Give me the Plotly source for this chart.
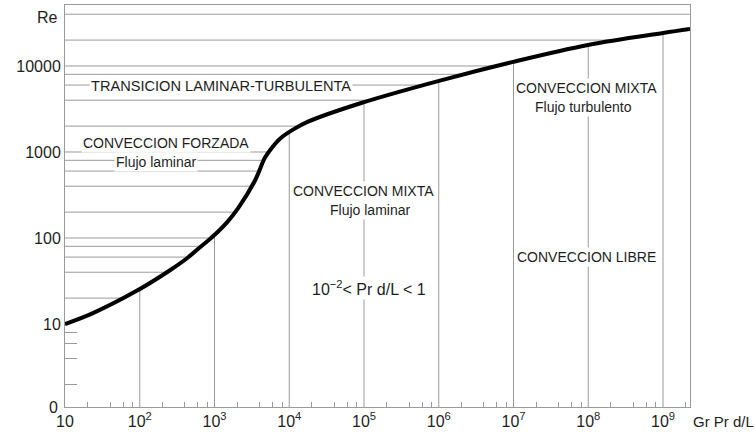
import numpy as np
import plotly.graph_objects as go

# ---- data ----
GR = [10, 23.7, 94.8, 254, 429, 640, 955, 1470, 2063, 3483, 4738, 5877,
      7520, 11220, 17820, 94000, 1.008e6, 9.85e6, 9.92e7, 1.0e9, 2.30e9]
RE = [10, 13.4, 24.8, 42.2, 58.2, 78.0, 104.6, 152, 221, 466, 861, 1125,
      1430, 1818, 2251, 3736, 6720, 11160, 17560, 24180, 26910]

X_TICK_VALS = [10, 1e2, 1e3, 1e4, 1e5, 1e6, 1e7, 1e8, 1e9]
X_TICK_TEXT = ["10", "10<sup>2</sup>", "10<sup>3</sup>", "10<sup>4</sup>", "10<sup>5</sup>",
               "10<sup>6</sup>", "10<sup>7</sup>", "10<sup>8</sup>", "10<sup>9</sup>"]
Y_TICK_VALS = [10, 100, 1000, 10000]
Y_TICK_TEXT = ["10", "100", "1000", "10000"]
H_GRID = [20, 40, 60, 80, 100, 200, 400, 600, 800, 1000, 2000, 4000, 6000, 8000,
          10000, 20000, 40000]
V_GRID = [1e2, 1e3, 1e4, 1e5, 1e6, 1e7, 1e8, 1e9]
X_MINOR = [m * 10 ** k for k in range(1, 10) for m in (2, 4, 6, 8) if m * 10 ** k < 2.3e9]
Y_MINOR = [2, 4, 6, 8]

X_RANGE = [1.0, 9.361]
Y_RANGE = [0.035, 4.709]

GRID_COLOR = "#9a9a9a"
TEXT_COLOR = "#1e1e1e"
FONT = "Liberation Sans, Arial, sans-serif"

lgx = np.log10(GR)
lgy = np.log10(RE)

# horizontal grid lines: from left axis to the curve
hx, hy = [], []
for v in H_GRID:
    lv = np.log10(v)
    if lv > lgy.max():
        xe = 10 ** X_RANGE[1]
    else:
        xe = 10 ** np.interp(lv, lgy, lgx)
    hx += [10 ** X_RANGE[0], xe, None]
    hy += [v, v, None]

# vertical grid lines: from bottom axis to the curve
vx, vy = [], []
for v in V_GRID:
    ye = 10 ** np.interp(np.log10(v), lgx, lgy)
    vx += [v, v, None]
    vy += [10 ** Y_RANGE[0], ye, None]

fig = go.Figure()
fig.add_trace(go.Scatter(x=hx, y=hy, mode="lines", line=dict(color=GRID_COLOR, width=1),
                         hoverinfo="skip", showlegend=False))
fig.add_trace(go.Scatter(x=vx, y=vy, mode="lines", line=dict(color=GRID_COLOR, width=1),
                         hoverinfo="skip", showlegend=False))
fig.add_trace(go.Scatter(x=GR, y=RE, mode="lines",
                         line=dict(color="black", width=4, shape="spline", smoothing=1.0),
                         showlegend=False))

LABELS = [
    ("TRANSICION LAMINAR-TURBULENTA", 3.087, 3.767, 14.6),
    ("CONVECCION FORZADA", 2.351, 3.105, 14),
    ("Flujo laminar", 2.217, 2.884, 14),
    ("CONVECCION MIXTA", 4.987, 2.547, 14),
    ("Flujo laminar", 5.080, 2.326, 14),
    ("10<sup>−2</sup>< Pr d/L < 1", 5.067, 1.419, 16),
    ("CONVECCION MIXTA", 7.983, 3.744, 14),
    ("Flujo turbulento", 7.930, 3.523, 14),
    ("CONVECCION LIBRE", 7.983, 1.779, 14),
]
for txt, lx, ly, fs in LABELS:
    fig.add_annotation(x=lx, y=ly, xref="x", yref="y", text=txt, showarrow=False,
                       bgcolor="white", borderpad=1,
                       font=dict(family=FONT, size=fs, color=TEXT_COLOR))

fig.add_annotation(x=0, y=0, xref="paper", yref="paper", text="0", showarrow=False,
                   xanchor="right", yanchor="middle", xshift=-5,
                   font=dict(family=FONT, size=16, color=TEXT_COLOR))
fig.add_annotation(x=0, y=0.9677, xref="paper", yref="paper", text="Re", showarrow=False,
                   xanchor="right", yanchor="middle", xshift=-5,
                   font=dict(family=FONT, size=16, color=TEXT_COLOR))
fig.add_annotation(x=1, y=0, xref="paper", yref="paper", text="Gr Pr d/L", showarrow=False,
                   xanchor="left", yanchor="top", xshift=1, yshift=-4,
                   font=dict(family=FONT, size=15, color=TEXT_COLOR))

fig.update_xaxes(type="log", range=X_RANGE, tickmode="array", tickvals=X_TICK_VALS,
                 ticktext=X_TICK_TEXT, ticks="", showgrid=False, zeroline=False,
                 showline=True, linecolor=GRID_COLOR, linewidth=1, mirror=True,
                 tickfont=dict(family=FONT, size=16, color=TEXT_COLOR),
                 minor=dict(tickmode="array", tickvals=X_MINOR, ticks="inside",
                            ticklen=5, tickcolor=GRID_COLOR, showgrid=False))
fig.update_yaxes(type="log", range=Y_RANGE, tickmode="array", tickvals=Y_TICK_VALS,
                 ticktext=Y_TICK_TEXT, ticks="", showgrid=False, zeroline=False,
                 showline=True, linecolor=GRID_COLOR, linewidth=1, mirror=True,
                 tickfont=dict(family=FONT, size=16, color=TEXT_COLOR),
                 minor=dict(tickmode="array", tickvals=Y_MINOR, ticks="inside",
                            ticklen=12, tickcolor=GRID_COLOR, showgrid=False))

fig.update_layout(width=755, height=441, margin=dict(l=65, r=65, t=5, b=34),
                  plot_bgcolor="white", paper_bgcolor="white")

fig.write_html("out.html", config={"displayModeBar": False},
               post_script="document.body.style.margin='0';document.body.style.overflow='hidden';")
